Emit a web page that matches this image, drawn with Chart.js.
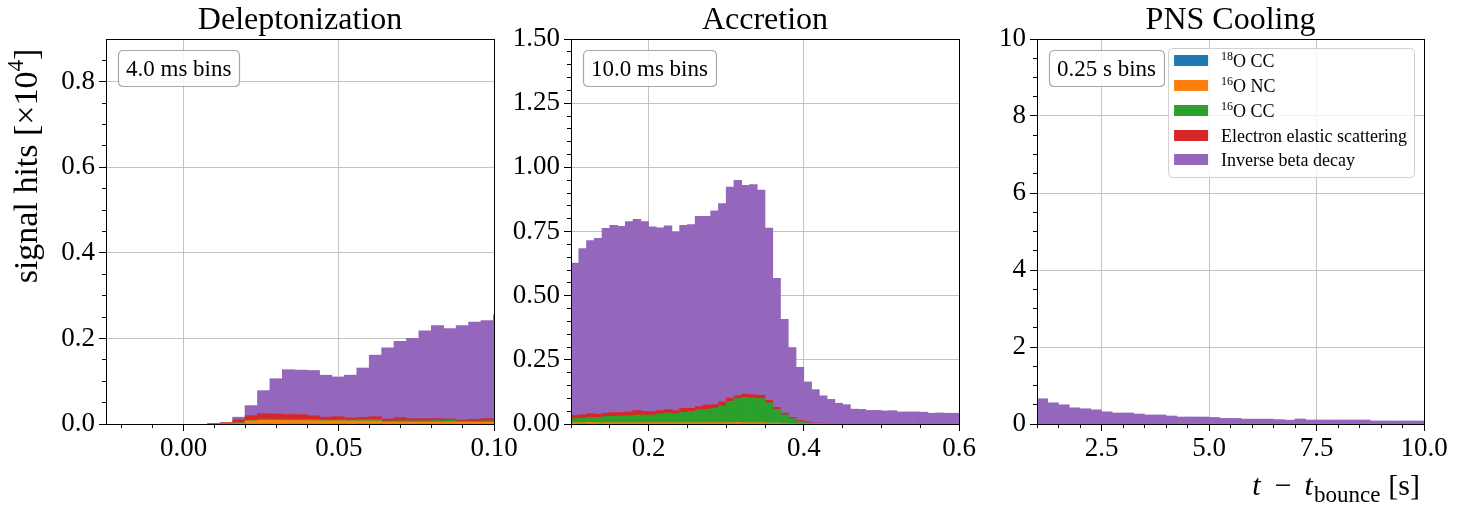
<!DOCTYPE html>
<html><head><meta charset="utf-8">
<script src="https://cdn.jsdelivr.net/npm/chart.js@4.4.1/dist/chart.umd.min.js"></script>
<style>
html,body{margin:0;padding:0;background:#fff;}
#wrap{position:relative;width:1457px;height:518px;overflow:hidden;background:#fff;}
canvas{position:absolute;top:0;}
</style></head><body>
<div id="wrap">
<canvas id="c1" width="530" height="518" style="left:0px;width:530px;height:518px"></canvas>
<canvas id="c2" width="490" height="518" style="left:500px;width:490px;height:518px"></canvas>
<canvas id="c3" width="492" height="518" style="left:965px;width:492px;height:518px"></canvas>
</div>
<script>
// ---------- Series names / colours ----------
const seriesNames = ['\u00B9\u2078O CC', '\u00B9\u2076O NC', '\u00B9\u2076O CC', 'Electron elastic scattering', 'Inverse beta decay'];
const legendParts = [[['18', 1], ['O CC', 0]], [['16', 1], ['O NC', 0]], [['16', 1], ['O CC', 0]], [['Electron elastic scattering', 0]], [['Inverse beta decay', 0]]];
const seriesColors = ['#1f77b4', '#ff7f0e', '#2ca02c', '#d62728', '#9467bd'];

// ---------- Deleptonization (4 ms bins, centres in s) ----------
const delCenters = [0.0098, 0.0138, 0.0178, 0.0218, 0.0258, 0.0298, 0.0338, 0.0378, 0.0418, 0.0458, 0.0498, 0.0538,
  0.0578, 0.0618, 0.0658, 0.0698, 0.0738, 0.0778, 0.0818, 0.0858, 0.0898, 0.0938, 0.0978, 0.1018];
const del18OCC = [0, 0, 0, 0, 0, 0, 0, 0, 0, 0, 0, 0, 0, 0, 0, 0, 0, 0, 0, 0, 0, 0, 0, 0];
const del16ONC = [0, 0.0003, 0.002, 0.0075, 0.0085, 0.0085, 0.008, 0.008, 0.0078, 0.0075, 0.0075, 0.0072,
  0.007, 0.007, 0.0045, 0.0045, 0.0045, 0.0045, 0.0045, 0.0045, 0.0042, 0.0042, 0.0042, 0.0042];
const del16OCC = [0, 0.0002, 0.0008, 0.0015, 0.003, 0.0028, 0.0025, 0.0025, 0.0028, 0.0025, 0.0025, 0.0025,
  0.0035, 0.0035, 0.0025, 0.003, 0.003, 0.003, 0.0035, 0.004, 0.0025, 0.0025, 0.003, 0.003];
const delES = [0.001, 0.0025, 0.0072, 0.0105, 0.0125, 0.012, 0.0115, 0.0115, 0.0085, 0.006, 0.007, 0.0045,
  0.005, 0.0065, 0.0047, 0.0075, 0.005, 0.005, 0.0045, 0.0032, 0.0027, 0.0043, 0.0053, 0.0058];
const delIBD = [0, 0, 0.006, 0.0235, 0.054, 0.0826, 0.105, 0.104, 0.106, 0.098, 0.093, 0.100,
  0.1154, 0.144, 0.1663, 0.178, 0.1875, 0.2055, 0.2175, 0.2113, 0.2206, 0.227, 0.2295, 0.243];
const delXTicks = [0, 0.05, 0.1];
const delXTickLabels = ['0.00', '0.05', '0.10'];
const delYTicks = [0, 0.2, 0.4, 0.6, 0.8];
const delYTickLabels = ['0.0', '0.2', '0.4', '0.6', '0.8'];
const delXMinor = [-0.02, -0.01, 0.01, 0.02, 0.03, 0.04, 0.06, 0.07, 0.08, 0.09];
const delYMinor = [0.05, 0.1, 0.15, 0.25, 0.3, 0.35, 0.45, 0.5, 0.55, 0.65, 0.7, 0.75, 0.85];

// ---------- Accretion (10 ms bins) ----------
const accCenters = [0.105, 0.115, 0.125, 0.135, 0.145, 0.155, 0.165, 0.175, 0.185, 0.195,
  0.205, 0.215, 0.225, 0.235, 0.245, 0.255, 0.265, 0.275, 0.285, 0.295,
  0.305, 0.315, 0.325, 0.335, 0.345, 0.355, 0.365, 0.375, 0.385, 0.395,
  0.405, 0.415, 0.425, 0.435, 0.445, 0.455, 0.465, 0.475, 0.485, 0.495,
  0.505, 0.515, 0.525, 0.535, 0.545, 0.555, 0.565, 0.575, 0.585, 0.595];
const acc18OCC = [0, 0, 0, 0, 0, 0, 0, 0, 0, 0, 0, 0, 0, 0, 0, 0, 0, 0, 0, 0, 0, 0, 0, 0, 0,
  0, 0, 0, 0, 0, 0, 0, 0, 0, 0, 0, 0, 0, 0, 0, 0, 0, 0, 0, 0, 0, 0, 0, 0, 0];
const acc16ONC = [0.005, 0.005, 0.006, 0.005, 0.005, 0.005, 0.005, 0.005, 0.005, 0.005,
  0.005, 0.005, 0.005, 0.005, 0.005, 0.005, 0.005, 0.005, 0.005, 0.005,
  0.005, 0.006, 0.005, 0.005, 0.005, 0.004, 0.004, 0.003, 0.002, 0.001,
  0.001, 0.0005, 0.0003, 0.0002, 0.0002, 0.0001, 0.0001, 0.0001, 0.0001, 0.0001,
  0.0001, 0.0001, 0.0001, 0.0001, 0.0001, 0.0001, 0.0001, 0.0001, 0.0001, 0.0001];
const acc16OCC = [0.016, 0.018, 0.019, 0.021, 0.024, 0.025, 0.026, 0.027, 0.030, 0.030,
  0.030, 0.035, 0.038, 0.035, 0.041, 0.044, 0.050, 0.052, 0.057, 0.065,
  0.083, 0.093, 0.099, 0.096, 0.094, 0.079, 0.053, 0.033, 0.019, 0.009,
  0.004, 0.0015, 0.0007, 0.0005, 0.0003, 0.0002, 0.0001, 0.0001, 0.0001, 0.0001,
  0.0001, 0.0001, 0.0001, 0.0001, 0.0001, 0.0001, 0.0001, 0.0001, 0.0001, 0.0001];
const accES = [0.013, 0.013, 0.015, 0.012, 0.013, 0.015, 0.014, 0.015, 0.018, 0.014,
  0.013, 0.012, 0.013, 0.012, 0.015, 0.012, 0.013, 0.017, 0.013, 0.016,
  0.013, 0.011, 0.012, 0.013, 0.013, 0.009, 0.008, 0.006, 0.005, 0.004,
  0.003, 0.002, 0.002, 0.0013, 0.001, 0.001, 0.0008, 0.0008, 0.0008, 0.0008,
  0.0008, 0.0008, 0.0008, 0.0008, 0.0008, 0.0008, 0.0008, 0.0008, 0.0008, 0.0008];
const accIBD = [0.593, 0.647, 0.675, 0.685, 0.720, 0.729, 0.725, 0.742, 0.744, 0.740,
  0.720, 0.712, 0.716, 0.697, 0.713, 0.716, 0.741, 0.735, 0.756, 0.773,
  0.822, 0.839, 0.814, 0.819, 0.799, 0.671, 0.503, 0.366, 0.272, 0.207,
  0.156, 0.130, 0.107, 0.094, 0.0795, 0.074, 0.057, 0.056, 0.052, 0.052,
  0.050, 0.051, 0.046, 0.046, 0.046, 0.045, 0.041, 0.042, 0.041, 0.041];
const accXTicks = [0.2, 0.4, 0.6];
const accXTickLabels = ['0.2', '0.4', '0.6'];
const accYTicks = [0, 0.25, 0.5, 0.75, 1.0, 1.25, 1.5];
const accYTickLabels = ['0.00', '0.25', '0.50', '0.75', '1.00', '1.25', '1.50'];
const accXMinor = [0.1, 0.15, 0.25, 0.3, 0.35, 0.45, 0.5, 0.55];
const accYMinor = [0.05, 0.1, 0.15, 0.2, 0.3, 0.35, 0.4, 0.45, 0.55, 0.6, 0.65, 0.7, 0.8, 0.85, 0.9, 0.95,
  1.05, 1.1, 1.15, 1.2, 1.3, 1.35, 1.4, 1.45];

// ---------- PNS Cooling (0.25 s bins) ----------
const cooCenters = [1.125, 1.375, 1.625, 1.875, 2.125, 2.375, 2.625, 2.875, 3.125, 3.375, 3.625, 3.875,
  4.125, 4.375, 4.625, 4.875, 5.125, 5.375, 5.625, 5.875, 6.125, 6.375, 6.625, 6.875,
  7.125, 7.375, 7.625, 7.875, 8.125, 8.375, 8.625, 8.875, 9.125, 9.375, 9.625, 9.875];
const coo18OCC = [0, 0, 0, 0, 0, 0, 0, 0, 0, 0, 0, 0, 0, 0, 0, 0, 0, 0, 0, 0, 0, 0, 0, 0, 0, 0, 0, 0, 0, 0, 0, 0, 0, 0, 0, 0];
const coo16ONC = [0.002, 0.002, 0.002, 0.001, 0.001, 0.001, 0.001, 0.001, 0.001, 0.001, 0.001, 0.001,
  0.0005, 0.0005, 0.0005, 0.0005, 0.0005, 0.0005, 0.0005, 0.0005, 0.0005, 0.0005, 0.0005, 0.0005,
  0.0005, 0.0005, 0.0005, 0.0005, 0.0005, 0.0005, 0.0005, 0.0005, 0.0005, 0.0005, 0.0005, 0.0005];
const coo16OCC = [0.002, 0.002, 0.002, 0.002, 0.002, 0.001, 0.001, 0.001, 0.001, 0.001, 0.001, 0.001,
  0.0005, 0.0005, 0.0005, 0.0005, 0.0005, 0.0005, 0.0005, 0.0005, 0.0005, 0.0005, 0.0005, 0.0005,
  0.0005, 0.0005, 0.0005, 0.0005, 0.0005, 0.0005, 0.0005, 0.0005, 0.0005, 0.0005, 0.0005, 0.0005];
const cooES = [0.012, 0.007, 0.010, 0.006, 0.005, 0.005, 0.004, 0.004, 0.004, 0.003, 0.003, 0.003,
  0.003, 0.003, 0.003, 0.003, 0.003, 0.003, 0.003, 0.003, 0.003, 0.003, 0.003, 0.003,
  0.003, 0.003, 0.003, 0.003, 0.003, 0.003, 0.003, 0.002, 0.002, 0.002, 0.002, 0.002];
const cooIBD = [0.640, 0.540, 0.485, 0.412, 0.387, 0.361, 0.310, 0.280, 0.280, 0.255, 0.230, 0.230,
  0.204, 0.178, 0.178, 0.178, 0.166, 0.141, 0.141, 0.123, 0.123, 0.123, 0.111, 0.096,
  0.126, 0.100, 0.100, 0.100, 0.100, 0.100, 0.100, 0.076, 0.076, 0.076, 0.076, 0.076];
const cooXTicks = [2.5, 5.0, 7.5, 10.0];
const cooXTickLabels = ['2.5', '5.0', '7.5', '10.0'];
const cooYTicks = [0, 2, 4, 6, 8, 10];
const cooYTickLabels = ['0', '2', '4', '6', '8', '10'];
const cooXMinor = [1, 1.5, 2, 3, 3.5, 4, 4.5, 5.5, 6, 6.5, 7, 8, 8.5, 9, 9.5];
const cooYMinor = [0.5, 1, 1.5, 2.5, 3, 3.5, 4.5, 5, 5.5, 6.5, 7, 7.5, 8.5, 9, 9.5];

// ---------- Drawing ----------
const SERIF = '"Liberation Serif", "DejaVu Serif", serif';

function roundRect(ctx, x, y, w, h, r) {
  ctx.beginPath();
  ctx.moveTo(x + r, y);
  ctx.lineTo(x + w - r, y); ctx.quadraticCurveTo(x + w, y, x + w, y + r);
  ctx.lineTo(x + w, y + h - r); ctx.quadraticCurveTo(x + w, y + h, x + w - r, y + h);
  ctx.lineTo(x + r, y + h); ctx.quadraticCurveTo(x, y + h, x, y + h - r);
  ctx.lineTo(x, y + r); ctx.quadraticCurveTo(x, y, x + r, y);
  ctx.closePath();
}
function fontOf(p) { return (p.italic ? 'italic ' : '') + p.size + 'px ' + SERIF; }
function partsWidth(ctx, parts) {
  let w = 0;
  parts.forEach(p => { ctx.font = fontOf(p); w += ctx.measureText(p.t).width + (p.gap || 0); });
  return w;
}
function drawParts(ctx, parts, x, y) {
  parts.forEach(p => { ctx.font = fontOf(p); ctx.fillText(p.t, x, y + (p.dy || 0)); x += ctx.measureText(p.t).width + (p.gap || 0); });
}

function extras(p) {
  return {
    id: 'extras_' + p.canvas,
    afterDraw(chart) {
      const ctx = chart.ctx, a = chart.chartArea;
      const xs = chart.scales.x, ys = chart.scales.y;
      ctx.save();
      ctx.strokeStyle = '#000'; ctx.lineWidth = 1;
      ctx.beginPath();
      p.xMinor.forEach(v => { const px = Math.round(xs.getPixelForValue(v) - 0.5) + 0.5; ctx.moveTo(px, a.bottom); ctx.lineTo(px, a.bottom + 4); });
      p.yMinor.forEach(v => { const py = Math.round(ys.getPixelForValue(v) - 0.5) + 0.5; ctx.moveTo(a.left - 4, py); ctx.lineTo(a.left, py); });
      ctx.stroke();
      // frame
      ctx.strokeRect(Math.round(a.left - 0.5) + 0.5, Math.round(a.top - 0.5) + 0.5,
        Math.round(a.right) - Math.round(a.left), Math.round(a.bottom) - Math.round(a.top));
      // bin-width box
      ctx.font = '23px ' + SERIF;
      const tw = ctx.measureText(p.binText).width;
      const bx = Math.round(a.left) + 12, by = Math.round(a.top) + 11, bw = Math.round(tw + 16), bh = 36;
      roundRect(ctx, bx + 0.5, by + 0.5, bw, bh, 5);
      ctx.fillStyle = 'rgba(255,255,255,0.85)'; ctx.fill();
      ctx.strokeStyle = '#a8a8a8'; ctx.lineWidth = 1.2; ctx.stroke();
      ctx.fillStyle = '#000'; ctx.textBaseline = 'alphabetic'; ctx.textAlign = 'left';
      ctx.fillText(p.binText, bx + 8, by + 26);
      // legend
      if (p.legend) {
        const rowH = 24.8;
        const rows = legendParts.map(lp => lp.map(([t, sup]) => sup ? { t, size: 12, dy: -7 } : { t, size: 18 }));
        let maxW = 0; rows.forEach(r => { maxW = Math.max(maxW, partsWidth(ctx, r)); });
        const lw = 6 + 34 + 13 + maxW + 7;
        const lx = Math.round(a.right) - 10 - lw, ly = Math.round(a.top) + 9, lh = 129;
        roundRect(ctx, lx + 0.5, ly + 0.5, lw, lh, 4);
        ctx.fillStyle = 'rgba(255,255,255,0.8)'; ctx.fill();
        ctx.strokeStyle = '#d0d0d0'; ctx.lineWidth = 1; ctx.stroke();
        rows.forEach((r, i) => {
          const cy = ly + 12.6 + i * rowH;
          ctx.fillStyle = seriesColors[i];
          ctx.fillRect(lx + 6, Math.round(cy - 5.5), 34, 11);
          ctx.fillStyle = '#000';
          drawParts(ctx, r, lx + 53, cy + 6.5);
        });
      }
      // y-axis label
      if (p.ylabel) {
        ctx.save();
        ctx.translate(37, 166); ctx.rotate(-Math.PI / 2);
        const parts = [{ t: 'signal hits [\u00D710', size: 34 }, { t: '4', size: 23, dy: -14 }, { t: ']', size: 34 }];
        const w = partsWidth(ctx, parts);
        ctx.fillStyle = '#000';
        drawParts(ctx, parts, -w / 2, 0);
        ctx.restore();
      }
      // x-axis label
      if (p.xlabel) {
        const parts = [{ t: 't', size: 30, italic: true, gap: 14 }, { t: '\u2212', size: 30, gap: 13 },
          { t: 't', size: 30, italic: true, gap: 1 }, { t: 'bounce', size: 23, dy: 7, gap: 8 }, { t: '[s]', size: 30 }];
        const w = partsWidth(ctx, parts);
        ctx.fillStyle = '#000';
        drawParts(ctx, parts, (1420 - p.left) - w, 495);
      }
      ctx.restore();
    }
  };
}

function buildChart(p) {
  const datasets = p.series.map((vals, i) => ({
    label: seriesNames[i], data: vals, backgroundColor: seriesColors[i],
    borderWidth: 0, barPercentage: 1, categoryPercentage: 1
  }));
  const GRID = { color: '#c4c4c4', lineWidth: 1, tickColor: '#000', tickLength: 7, tickWidth: 1, drawTicks: true, offset: false };
  const TF = { family: SERIF, size: 27 };
  return new Chart(document.getElementById(p.canvas), {
    type: 'bar',
    data: { labels: p.centers, datasets },
    options: {
      responsive: false, animation: false, devicePixelRatio: 1,
      layout: { padding: { left: 0, right: p.padRight, top: 0, bottom: 0 } },
      plugins: {
        legend: { display: false }, tooltip: { enabled: false },
        title: { display: true, fullSize: false, text: p.title, color: '#000',
          font: { family: SERIF, size: 32, weight: 'normal', lineHeight: 1.09375 }, padding: { top: 3, bottom: 1 } }
      },
      scales: {
        x: {
          type: 'linear', min: p.xMin, max: p.xMax, offset: false, stacked: true,
          grid: GRID, border: { display: false },
          ticks: { font: TF, color: '#000', autoSkip: false, maxRotation: 0, minRotation: 0, padding: 2,
            callback: (v, i) => p.xTickLabels[i] },
          afterBuildTicks: s => { s.ticks = p.xTicks.map(v => ({ value: v })); },
          afterFit: s => { s.height = 94; }
        },
        y: {
          type: 'linear', min: 0, max: p.yMax, stacked: true,
          grid: GRID, border: { display: false },
          ticks: { font: TF, color: '#000', autoSkip: false, padding: 4,
            callback: (v, i) => p.yTickLabels[i] },
          afterBuildTicks: s => { s.ticks = p.yTicks.map(v => ({ value: v })); },
          afterFit: s => { s.width = p.yAxisWidth; }
        }
      }
    },
    plugins: [extras(p)]
  });
}

const panels = [
  { canvas: 'c1', left: 0, title: 'Deleptonization', binText: '4.0 ms bins', centers: delCenters,
    series: [del18OCC, del16ONC, del16OCC, delES, delIBD], xMin: -0.025, xMax: 0.1, yMax: 0.9,
    xTicks: delXTicks, xTickLabels: delXTickLabels, yTicks: delYTicks, yTickLabels: delYTickLabels,
    xMinor: delXMinor, yMinor: delYMinor, yAxisWidth: 106, padRight: 36, ylabel: true },
  { canvas: 'c2', left: 500, title: 'Accretion', binText: '10.0 ms bins', centers: accCenters,
    series: [acc18OCC, acc16ONC, acc16OCC, accES, accIBD], xMin: 0.1, xMax: 0.6, yMax: 1.5,
    xTicks: accXTicks, xTickLabels: accXTickLabels, yTicks: accYTicks, yTickLabels: accYTickLabels,
    xMinor: accXMinor, yMinor: accYMinor, yAxisWidth: 71, padRight: 31 },
  { canvas: 'c3', left: 965, title: 'PNS Cooling', binText: '0.25 s bins', centers: cooCenters,
    series: [coo18OCC, coo16ONC, coo16OCC, cooES, cooIBD], xMin: 1, xMax: 10, yMax: 10,
    xTicks: cooXTicks, xTickLabels: cooXTickLabels, yTicks: cooYTicks, yTickLabels: cooYTickLabels,
    xMinor: cooXMinor, yMinor: cooYMinor, yAxisWidth: 72, padRight: 33, legend: true, xlabel: true }
];
panels.forEach(buildChart);
</script>
</body></html>
